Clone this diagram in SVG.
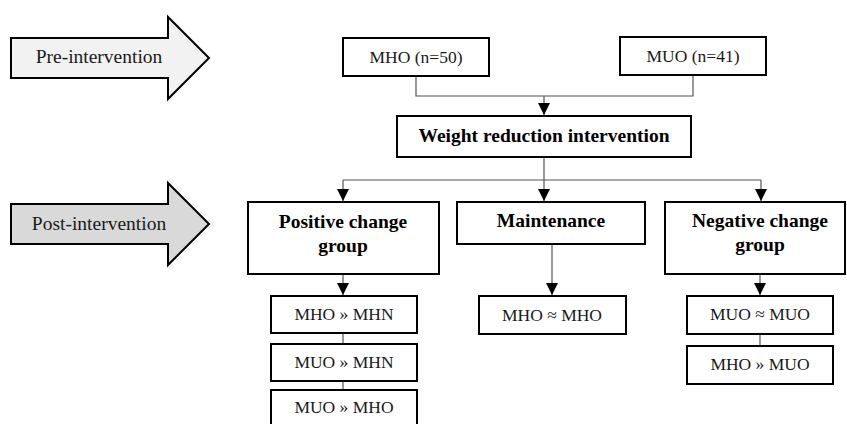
<svg xmlns="http://www.w3.org/2000/svg" width="847" height="424" viewBox="0 0 847 424">
<defs>
<marker id="ah" markerUnits="userSpaceOnUse" markerWidth="12" markerHeight="12" viewBox="0 0 12 12" refX="12" refY="6" orient="auto">
<path d="M0,0 L12,6 L0,12 Z" fill="#000"/>
</marker>
<style>
.box{fill:#fff;stroke:#000;stroke-width:2}
text{font-family:"Liberation Serif","DejaVu Serif",serif;text-anchor:middle}
.t{font-size:17.5px;fill:#1a1a1a}
.b{font-size:19.5px;font-weight:bold;fill:#000}
.a{font-size:19.5px;fill:#1a1a1a}
.c{fill:none;stroke:#555;stroke-width:1.2}
</style>
</defs>
<rect width="847" height="424" fill="#fff"/>
<g id="pre-arrow">
<polygon points="11,38 168,38 168,17 209,58 168,99 168,78 11,78" fill="#f2f2f2" stroke="#000" stroke-width="2"/>
<text class="a" x="99" y="63" font-family="Liberation Serif, serif">Pre-intervention</text>
</g>
<g id="post-arrow">
<polygon points="11,204 168,204 168,183 209,224 168,265 168,244 11,244" fill="#d9d9d9" stroke="#000" stroke-width="2"/>
<text class="a" x="99" y="230">Post-intervention</text>
</g>
<g id="connectors">
<path class="c" d="M416,76 V96 H693 V75"/>
<path class="c" d="M544,96 V115" marker-end="url(#ah)"/>
<path class="c" d="M544,157 V180 M343,180 H761"/>
<path class="c" d="M343,180 V201" marker-end="url(#ah)"/>
<path class="c" d="M544,180 V201" marker-end="url(#ah)"/>
<path class="c" d="M761,180 V201" marker-end="url(#ah)"/>
<path class="c" d="M343,274 V295" marker-end="url(#ah)"/>
<path class="c" d="M552,244 V295" marker-end="url(#ah)"/>
<path class="c" d="M760,274 V295" marker-end="url(#ah)"/>
<path class="c" d="M343,333 V344 M343,381 V390 M760,334 V346"/>
</g>
<g id="mho-pre">
<rect class="box" x="343" y="38" width="146" height="38"/>
<text class="t" x="416" y="63">MHO (n=50)</text>
</g>
<g id="muo-pre">
<rect class="box" x="620" y="37" width="146" height="38"/>
<text class="t" x="693" y="62">MUO (n=41)</text>
</g>
<g id="intervention">
<rect class="box" x="397" y="116" width="294" height="41"/>
<text class="b" x="544" y="142">Weight reduction intervention</text>
</g>
<g id="positive">
<rect class="box" x="248" y="202" width="191" height="72"/>
<text class="b" x="343" y="228">Positive change</text>
<text class="b" x="343" y="252">group</text>
</g>
<g id="maintenance">
<rect class="box" x="457" y="202" width="188" height="42"/>
<text class="b" x="551" y="227">Maintenance</text>
</g>
<g id="negative">
<rect class="box" x="665" y="202" width="180" height="72"/>
<text class="b" x="760" y="227">Negative change</text>
<text class="b" x="760" y="251">group</text>
</g>
<g id="mho-mhn">
<rect class="box" x="271" y="296" width="146" height="37"/>
<text class="t" x="344" y="320">MHO » MHN</text>
</g>
<g id="muo-mhn">
<rect class="box" x="271" y="344" width="146" height="37"/>
<text class="t" x="344" y="368">MUO » MHN</text>
</g>
<g id="muo-mho">
<rect class="box" x="271" y="390" width="146" height="40"/>
<text class="t" x="344" y="413">MUO » MHO</text>
</g>
<g id="mho-mho">
<rect class="box" x="479" y="296" width="147" height="38"/>
<text class="t" x="552" y="321">MHO ≈ MHO</text>
</g>
<g id="muo-muo">
<rect class="box" x="687" y="296" width="146" height="38"/>
<text class="t" x="760" y="320">MUO ≈ MUO</text>
</g>
<g id="mho-muo">
<rect class="box" x="687" y="346" width="146" height="38"/>
<text class="t" x="760" y="370">MHO » MUO</text>
</g>
</svg>
